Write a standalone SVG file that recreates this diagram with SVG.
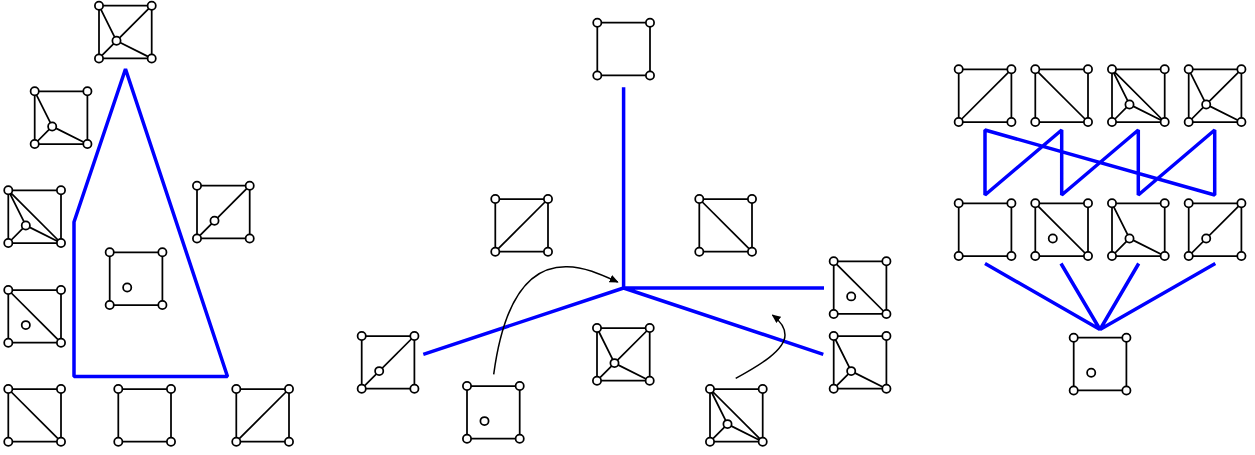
<svg xmlns="http://www.w3.org/2000/svg" width="1255" height="455" viewBox="0 0 1255 455">
<style>
.e{fill:none;stroke:#000;stroke-width:1.75}
.v{fill:#fff;stroke:#000;stroke-width:1.75}
.b{fill:none;stroke:#00f;stroke-width:3.5;stroke-linejoin:bevel}
.c{fill:none;stroke:#000;stroke-width:1.5}
</style>
<defs>
<marker id="ah" markerWidth="9" markerHeight="8" refX="8" refY="4" orient="auto" markerUnits="userSpaceOnUse"><path d="M0,0L9,4L0,8Z" fill="#000"/></marker>
<g id="corners"><circle class="v" r="4.1" cx="0" cy="0"/><circle class="v" r="4.1" cx="52.7" cy="0"/><circle class="v" r="4.1" cx="0" cy="52.7"/><circle class="v" r="4.1" cx="52.7" cy="52.7"/></g>
<g id="pt"><circle class="v" r="4.1" cx="17.5" cy="35.1"/></g>
<path id="sq" class="e" d="M0,0H52.7V52.7H0Z"/>
<g id="n-e"><use href="#sq"/><use href="#corners"/></g>
<g id="n-a"><use href="#sq"/><path class="e" d="M0,52.7L52.7,0"/><use href="#corners"/></g>
<g id="n-d"><use href="#sq"/><path class="e" d="M0,0L52.7,52.7"/><use href="#corners"/></g>
<g id="n-p"><use href="#sq"/><use href="#corners"/><use href="#pt"/></g>
<g id="n-dp"><use href="#sq"/><path class="e" d="M0,0L52.7,52.7"/><use href="#corners"/><use href="#pt"/></g>
<g id="n-ap"><use href="#sq"/><path class="e" d="M0,52.7L52.7,0"/><use href="#corners"/><use href="#pt"/></g>
<g id="n-t"><use href="#sq"/><path class="e" d="M0,0L17.5,35.1M0,52.7L17.5,35.1M52.7,52.7L17.5,35.1"/><use href="#corners"/><use href="#pt"/></g>
<g id="n-x"><use href="#sq"/><path class="e" d="M0,0L17.5,35.1M0,52.7L17.5,35.1M52.7,52.7L17.5,35.1M52.7,0L17.5,35.1"/><use href="#corners"/><use href="#pt"/></g>
<g id="n-q"><use href="#sq"/><path class="e" d="M0,0L52.7,52.7M0,0L17.5,35.1M0,52.7L17.5,35.1M52.7,52.7L17.5,35.1"/><use href="#corners"/><use href="#pt"/></g>
</defs>
<g id="connectors">
<path class="b" d="M74,376.5V222L125.5,69L227.5,376.5Z"/>
<path class="b" d="M623.6,87.3V288M824,288H623.6M423.3,354.3L623.6,288L823.3,354.3"/>
<path class="b" d="M985,130V195L1061.7,130V195L1138.3,130V195L1214.7,130V195Z"/>
<path class="b" d="M985,263.5L1100,329.5L1061,263.5M1138.7,263.5L1100,329.5L1215.3,263.5"/>
<path class="c" marker-end="url(#ah)" d="M493.7,374.3C505,290 535,266 567,266.7C585,267 600,274 617.7,282"/>
<path class="c" marker-end="url(#ah)" d="M735.7,378.3C760,365 785,350 785,335C785,327 779,320 772.5,315"/>
</g>
<g id="a1"><use href="#n-x" x="99" y="5.7"/></g>
<g id="a2"><use href="#n-t" x="34.7" y="91.3"/></g>
<g id="a3"><use href="#n-q" x="8.3" y="190.3"/></g>
<g id="a4"><use href="#n-ap" x="197" y="185.7"/></g>
<g id="a5"><use href="#n-p" x="109.7" y="252.3"/></g>
<g id="a6"><use href="#n-dp" x="8.3" y="290"/></g>
<g id="a7"><use href="#n-d" x="8.3" y="389"/></g>
<g id="a8"><use href="#n-e" x="118.3" y="389"/></g>
<g id="a9"><use href="#n-a" x="236.3" y="389"/></g>
<g id="b1"><use href="#n-e" x="597.3" y="22.7"/></g>
<g id="b2"><use href="#n-a" x="495.3" y="199"/></g>
<g id="b3"><use href="#n-d" x="699.3" y="199"/></g>
<g id="b4"><use href="#n-ap" x="361.7" y="336"/></g>
<g id="b5"><use href="#n-p" x="467" y="386"/></g>
<g id="b6"><use href="#n-x" x="597" y="328"/></g>
<g id="b7"><use href="#n-q" x="710" y="389"/></g>
<g id="b8"><use href="#n-dp" x="833.7" y="261.3"/></g>
<g id="b9"><use href="#n-t" x="833.7" y="336"/></g>
<g id="c1"><use href="#n-a" x="958.7" y="69.3"/></g>
<g id="c2"><use href="#n-d" x="1035.3" y="69.3"/></g>
<g id="c3"><use href="#n-q" x="1112" y="69.3"/></g>
<g id="c4"><use href="#n-x" x="1188.7" y="69.3"/></g>
<g id="c5"><use href="#n-e" x="958.7" y="203.3"/></g>
<g id="c6"><use href="#n-dp" x="1035.3" y="203.3"/></g>
<g id="c7"><use href="#n-t" x="1112" y="203.3"/></g>
<g id="c8"><use href="#n-ap" x="1188.7" y="203.3"/></g>
<g id="c9"><use href="#n-p" x="1073.7" y="337.7"/></g>
</svg>
